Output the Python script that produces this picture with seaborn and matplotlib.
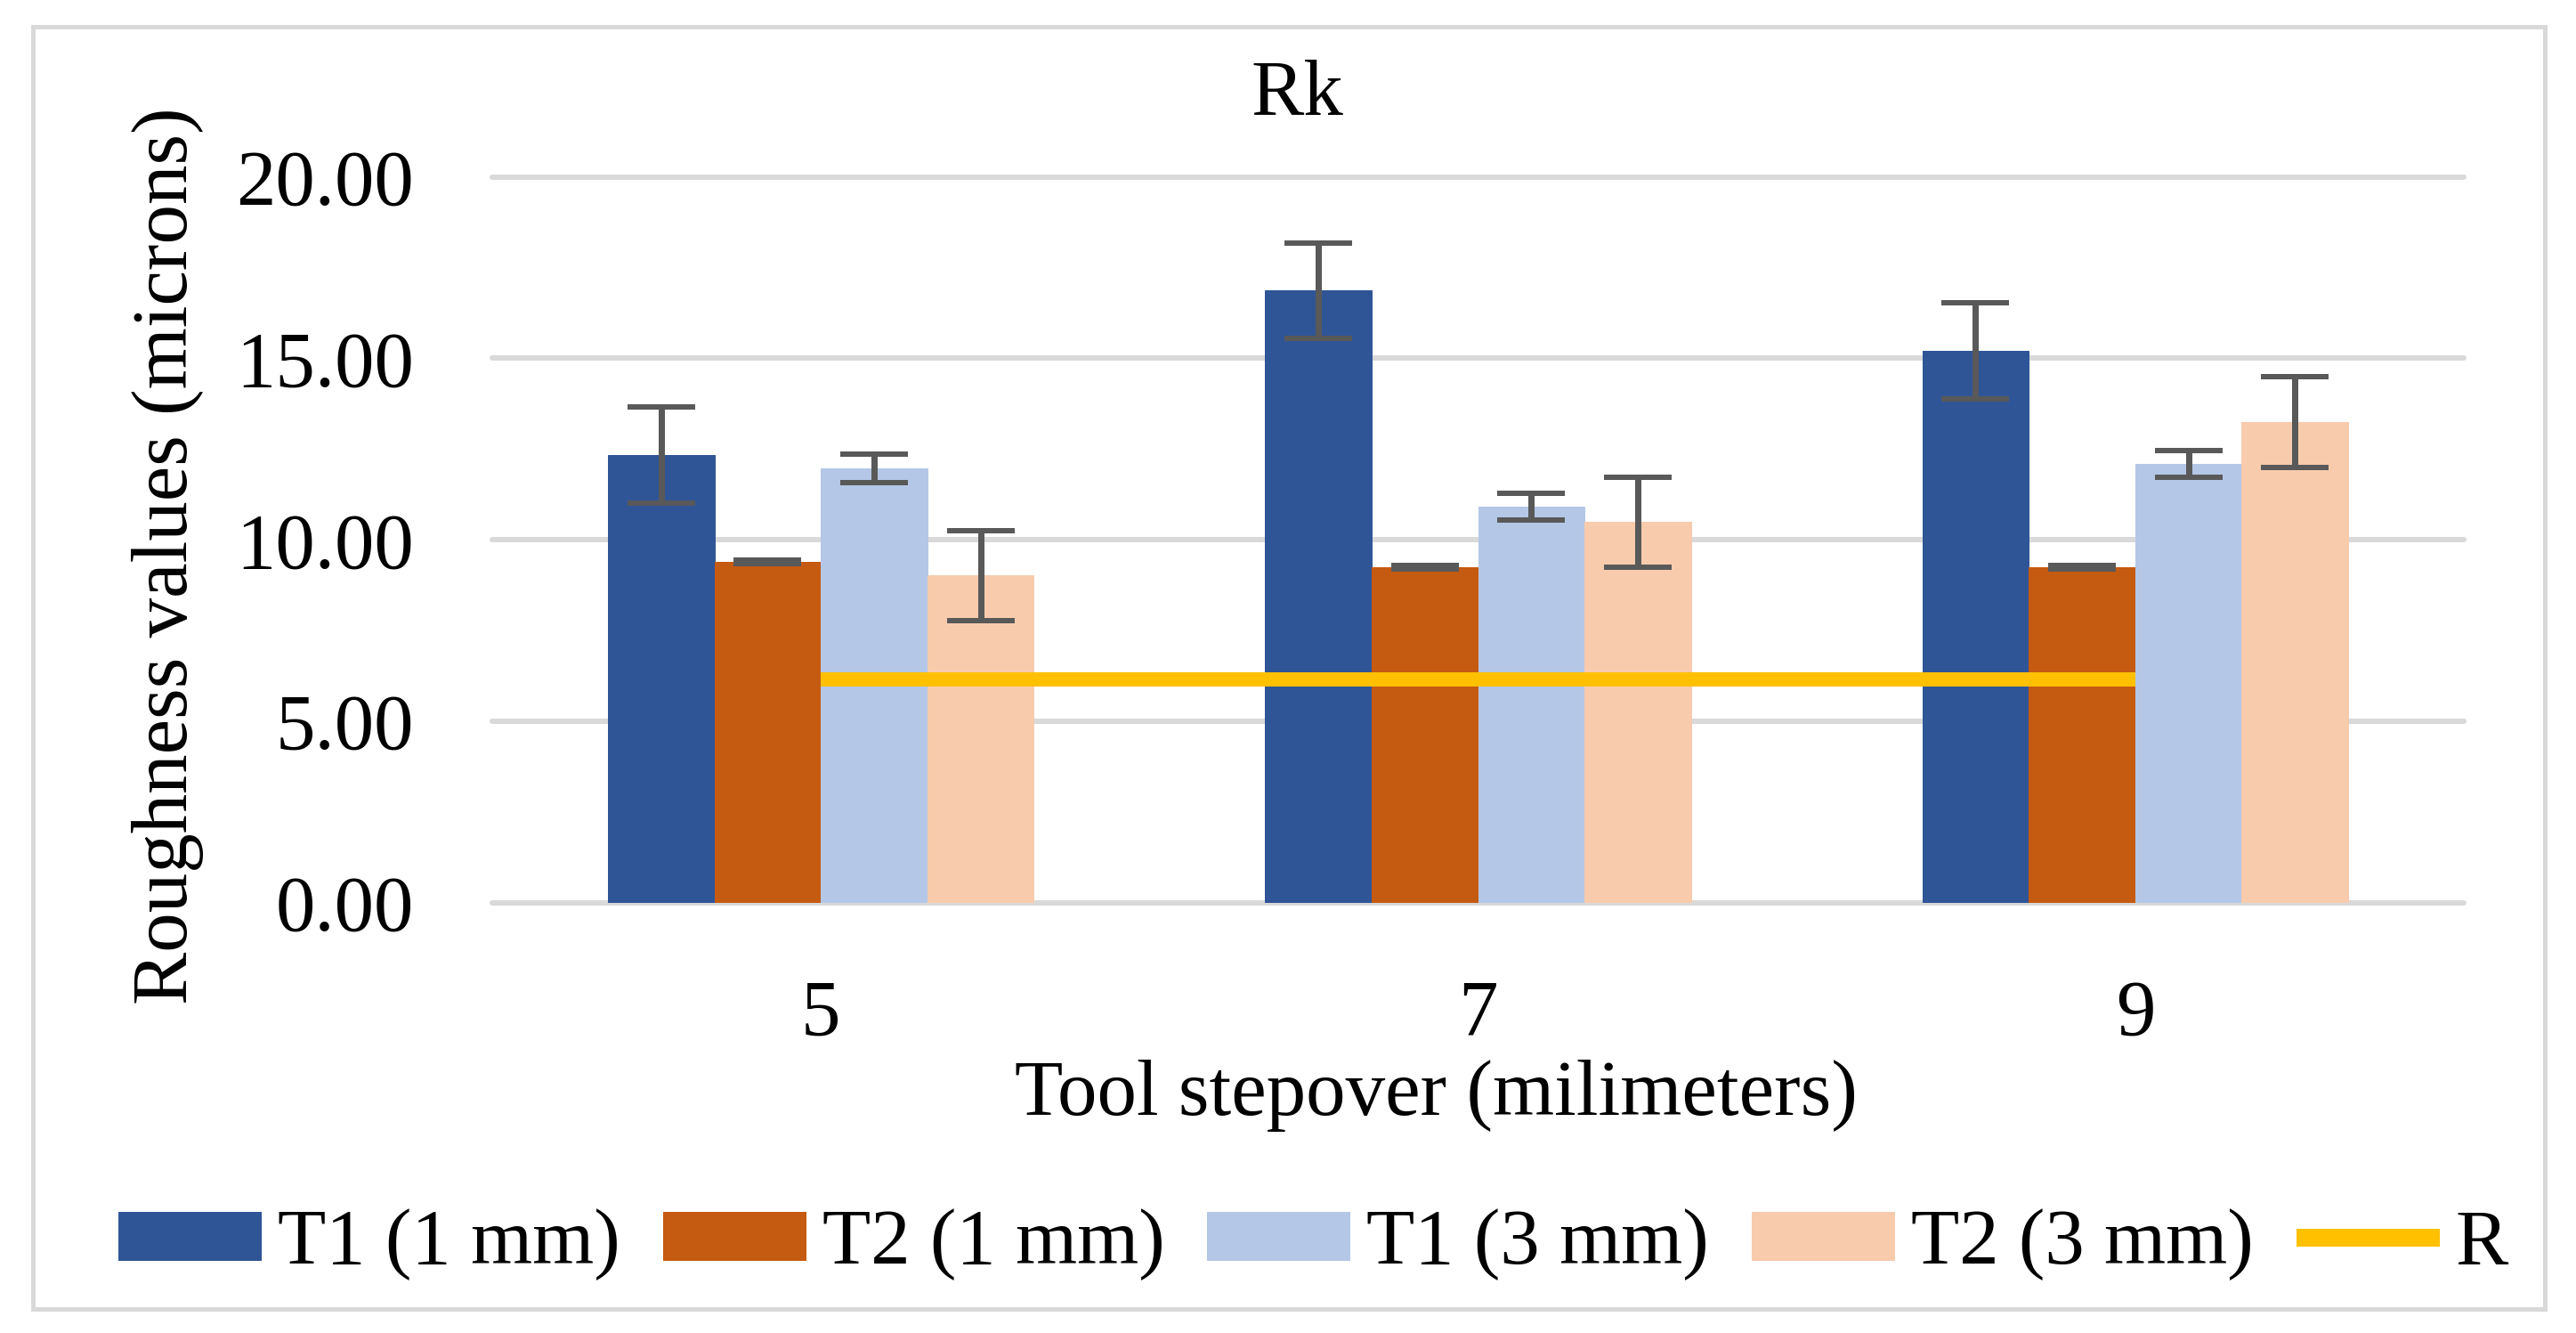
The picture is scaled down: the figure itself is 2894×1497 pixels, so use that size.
import numpy as np
import pandas as pd
import matplotlib
matplotlib.use("Agg")
import matplotlib.pyplot as plt
import seaborn as sns
from matplotlib.patches import Rectangle, Patch
from matplotlib.lines import Line2D

# ---------------- data ----------------
stepover = ["5", "7", "9"]
series = ["T1 (1 mm)", "T2 (1 mm)", "T1 (3 mm)", "T2 (3 mm)"]
t1_1mm = [12.34, 16.86, 15.20]
t2_1mm = [9.40, 9.25, 9.25]
t1_3mm = [11.96, 10.90, 12.08]
t2_3mm = [9.02, 10.49, 13.24]
err_t1_1mm = [1.33, 1.32, 1.32]
err_t2_1mm = [0.05, 0.05, 0.05]
err_t1_3mm = [0.39, 0.37, 0.37]
err_t2_3mm = [1.24, 1.24, 1.24]
r_label = "R"
r_values = [6.15, 6.15, 6.15]
yticks = [0, 5, 10, 15, 20]
title = "Rk"
xlabel = "Tool stepover (milimeters)"
ylabel = "Roughness values (microns)"

colors = ["#2F5597", "#C55A11", "#B4C7E7", "#F8CBAD"]
r_color = "#FFC000"
grid_color = "#D9D9D9"
err_color = "#595959"

# ---------------- figure geometry ----------------
W, H = 2894, 1497
DPI = 100
PX = 72.0 / DPI          # points per pixel
FS = 64                   # font size (pt)
FPX = FS / PX             # font size in px

sns.set_theme(style="white")
plt.rcParams["font.family"] = ["Liberation Serif", "DejaVu Serif"]
plt.rcParams["text.color"] = "black"

fig = plt.figure(figsize=(W / DPI, H / DPI), dpi=DPI)
fig.patch.set_facecolor("white")

# outer chart border
fig.patches.append(Rectangle((37 / W, 1 - 1470 / H), (2859 - 37) / W, (1470 - 29.5) / H,
                             transform=fig.transFigure, fill=False,
                             edgecolor=grid_color, linewidth=5 * PX))

ax_l, ax_r, ax_t, ax_b = 553, 2768, 198.5, 1013.7
ax = fig.add_axes([ax_l / W, 1 - ax_b / H, (ax_r - ax_l) / W, (ax_b - ax_t) / H])
ax.set_facecolor("white")

# ---------------- bars ----------------
vals = [t1_1mm, t2_1mm, t1_3mm, t2_3mm]
errs = [err_t1_1mm, err_t2_1mm, err_t1_3mm, err_t2_3mm]
rows = []
for s, v in zip(series, vals):
    for c, val in zip(stepover, v):
        rows.append({"stepover": c, "value": val, "series": s})
df = pd.DataFrame(rows)

sns.barplot(data=df, x="stepover", y="value", hue="series", order=stepover,
            hue_order=series, palette=colors, width=0.648, gap=0, errorbar=None,
            saturation=1, linewidth=0, ax=ax, legend=False, zorder=2)

for cont in ax.containers:
    for b in cont:
        b.set_edgecolor(b.get_facecolor())
        b.set_linewidth(1 * PX)

for cont, e in zip(ax.containers, errs):
    xs = [b.get_x() + b.get_width() / 2 for b in cont]
    ys = [b.get_height() for b in cont]
    ax.errorbar(xs, ys, yerr=e, fmt="none", ecolor=err_color,
                elinewidth=7 * PX, capsize=38 * PX, capthick=6 * PX, zorder=4)

# reference line
sns.pointplot(x=stepover, y=r_values, order=stepover, color=r_color, errorbar=None,
              marker="", linewidth=16 * PX, solid_capstyle="butt", zorder=5, ax=ax)

# ---------------- axes styling ----------------
ax.set_xlim(-0.5, 2.5)
ax.set_ylim(0, 20)
ax.set_yticks(yticks)
ax.set_yticklabels([f"{t:.2f}" for t in yticks])
ax.yaxis.grid(True, color=grid_color, linewidth=6 * PX, zorder=0)
ax.xaxis.grid(False)
ax.set_axisbelow(True)
for gl in ax.get_ygridlines():
    gl.set_clip_on(False)
for sp in ax.spines.values():
    sp.set_visible(False)
ax.tick_params(axis="y", length=0, pad=88 * PX, labelsize=FS, labelcolor="black")
ax.tick_params(axis="x", length=0, pad=86 * PX, labelsize=FS, labelcolor="black")
ax.set_xlabel("")
ax.set_ylabel("")

# titles
fig.text(1457 / W, 1 - 129 / H, title, ha="center", va="baseline", fontsize=FS)
fig.text(1613 / W, 1 - 1252 / H, xlabel, ha="center", va="baseline", fontsize=FS)
fig.text(210 / W, 1 - 624.5 / H, ylabel, ha="center", va="baseline", rotation=90,
         rotation_mode="anchor", fontsize=FS)

# ---------------- legend ----------------
handles = [Patch(facecolor=c, edgecolor="none") for c in colors]
handles.append(Line2D([0], [0], color=r_color, linewidth=20 * PX, solid_capstyle="butt"))
labels = series + [r_label]
fig.legend(handles, labels, loc="center", bbox_to_anchor=(1475.5 / W, 1 - 1398 / H),
           ncol=5, frameon=False, fontsize=FS, handlelength=161 / FPX,
           handleheight=51 / FPX, handletextpad=18 / FPX, columnspacing=48 / FPX,
           borderpad=0, borderaxespad=0)

fig.savefig("out.png", dpi=DPI, facecolor="white")
